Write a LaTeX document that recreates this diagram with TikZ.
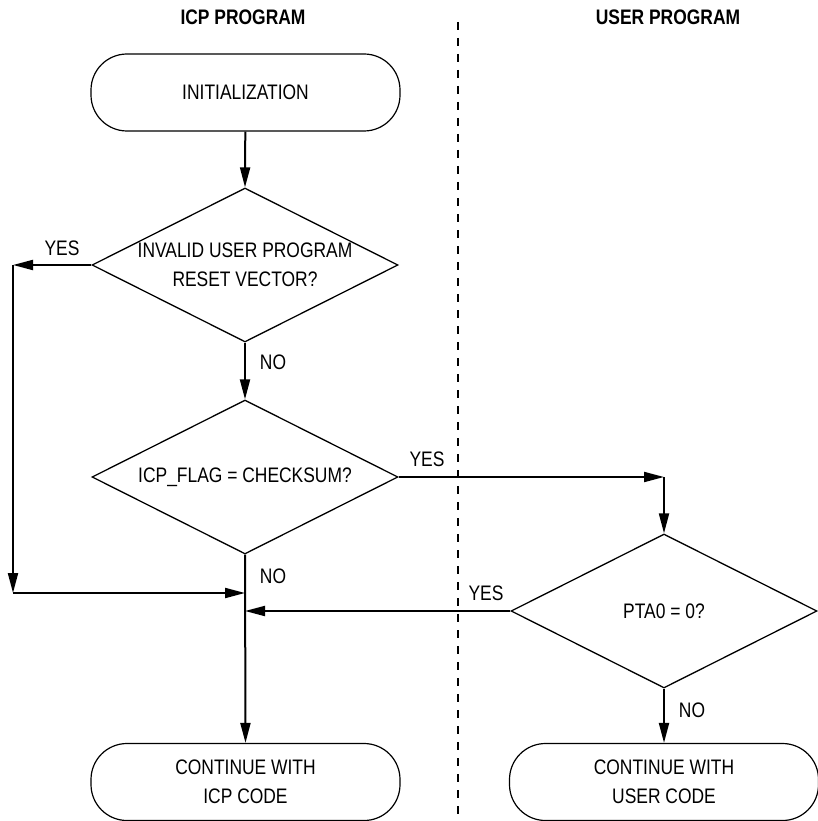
\documentclass[tikz,border=0pt]{standalone}
\usepackage{fontspec}
\setmainfont{Liberation Sans}[FakeStretch=0.83]
\usepackage{tikz}
\usetikzlibrary{arrows.meta, shapes.geometric}

\begin{document}
\begin{tikzpicture}[x=1pt, y=-1pt,
	flow text/.style={font=\fontsize{21}{29}\selectfont},
	lane title/.style={font=\fontsize{21}{29}\selectfont\bfseries},
	terminal/.style={draw, line width=1.2pt, rounded corners=36pt, align=center,
	minimum width=309pt, minimum height=77pt, flow text},
	decision/.style={draw, diamond, aspect=2, line width=1.3pt, inner sep=0pt, align=center,
	minimum width=306pt, minimum height=154pt, flow text},
	lane line/.style={line width=2pt, dash pattern=on 8pt off 8pt},
	arr/.style={-{Triangle[length=20pt, width=10pt]}, line width=2pt},
	answer/.style={flow text, inner sep=0pt}]
	
	\useasboundingbox (0,0) rectangle (817,821);
	
	\node [lane title] (icptitle) at (243,17) {ICP PROGRAM};
	\node [lane title] (usertitle) at (668,17) {USER PROGRAM};
	\draw [lane line] (458,22) -- (458,821);
	
	\node [terminal] (init) at (245.5,92.5) {INITIALIZATION};
	\node [decision] (invalid) at (245,265) {INVALID USER PROGRAM\\RESET VECTOR?};
	\node [decision] (checksum) at (245,477) {ICP\_FLAG = CHECKSUM?};
	\node [decision] (pta) at (664,611) {PTA0 = 0?};
	\node [terminal] (icpend) at (245.5,782) {CONTINUE WITH\\ICP CODE};
	\node [terminal] (userend) at (664,782) {CONTINUE WITH\\USER CODE};
	
	\coordinate (yesturn) at (13,265);
	\coordinate (leftjoin) at (13,593);
	\coordinate (icpjoin) at (245,593);
	\coordinate (ptajoin) at (245,611);
	\coordinate (userturn) at (664,477);
	
	\draw [arr] (init) -- (invalid.north);
	\draw [arr] (invalid.south) -- (checksum.north);
	\draw [arr] (invalid.west) -- (yesturn);
	\draw [arr] (yesturn) -- (leftjoin);
	\draw [arr] (leftjoin) -- (icpjoin);
	\draw [arr] (checksum.east) -- (userturn);
	\draw [arr] (userturn) -- (pta.north);
	\draw [arr] (pta.west) -- (ptajoin);
	\draw [arr] (checksum.south) -- (icpend.north);
	\draw [arr] (pta.south) -- (userend.north);
	
	\node [answer] (yesinvalid) at (62,248) {YES};
	\node [answer] (noinvalid) at (273,362) {NO};
	\node [answer] (yeschecksum) at (427,459) {YES};
	\node [answer] (nochecksum) at (273,576) {NO};
	\node [answer] (yespta) at (486,593) {YES};
	\node [answer] (nopta) at (692,710) {NO};
\end{tikzpicture}
\end{document}
